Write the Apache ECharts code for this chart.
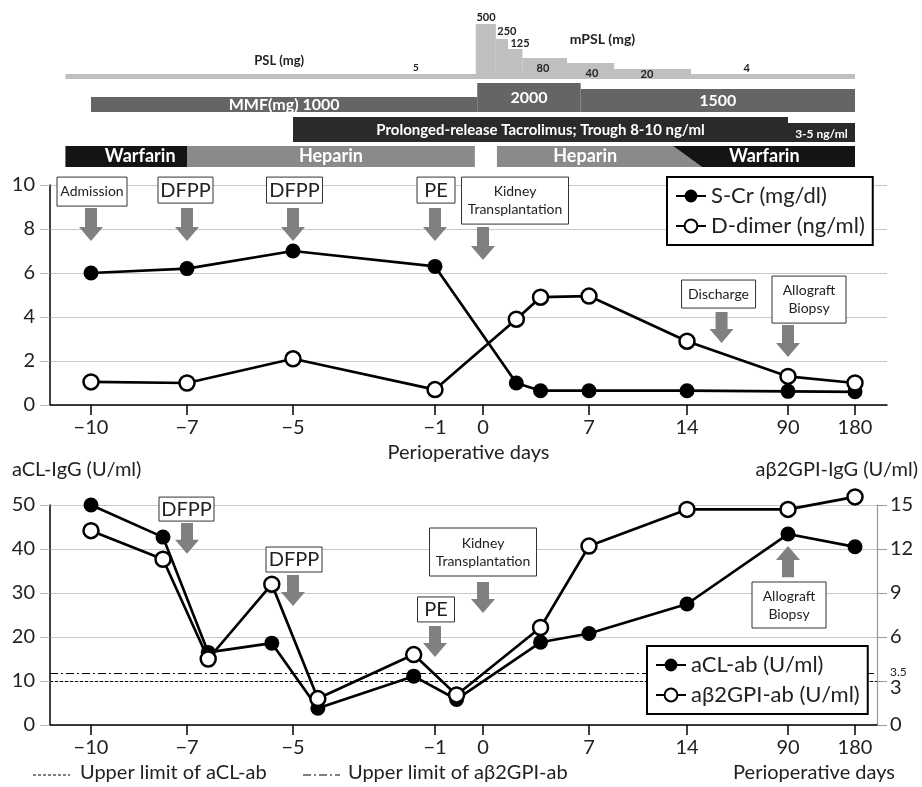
<!DOCTYPE html>
<html><head><meta charset="utf-8">
<script src="https://cdn.jsdelivr.net/npm/echarts@6/dist/echarts.min.js"></script>
<style>html,body{margin:0;padding:0;background:#fff}#c{width:922px;height:787px}</style>
</head><body><div id="c"></div>
<script>
// ---- nonlinear perioperative-day axis ----
const tickDays   = [-10, -7, -5, -1, 0, 7, 14, 90, 180];
const tickLabels = ['−10', '−7', '−5', '−1', '0', '7', '14', '90', '180'];
const tickSlots  = [41, 137, 243, 385, 433, 539, 637, 738, 805];

// ---- upper chart ----
const crDays = [-10, -7, -5, -1, 2.2, 3.8, 7, 14, 90, 180];
const sCr    = [6.0, 6.2, 7.0, 6.3, 1.0, 0.65, 0.65, 0.65, 0.62, 0.6];
const dDimer = [1.05, 1.0, 2.1, 0.7, 3.9, 4.9, 4.95, 2.9, 1.3, 1.0];

// ---- lower chart ----
const abDays = [-10, -7.75, -6.6, -5.4, -4.3, -1.6, -0.55, 3.8, 7, 14, 90, 180];
const aCL    = [50, 42.7, 16.5, 18.6, 3.8, 11.1, 5.8, 18.8, 20.8, 27.5, 43.4, 40.5];
const aB2GPI = [13.25, 11.3, 4.5, 9.6, 1.8, 4.8, 2.05, 6.65, 12.2, 14.7, 14.7, 15.55];
const aclLimit = 10;
const b2gpiLimit = 3.5;

// ---- events ----
const topEvents = [
  {text: 'Admission', day: -10}, {text: 'DFPP', day: -7}, {text: 'DFPP', day: -5},
  {text: 'PE', day: -1}, {text: 'Kidney\nTransplantation', day: 0},
  {text: 'Discharge', day: 40}, {text: 'Allograft\nBiopsy', day: 90}
];
const bottomEvents = [
  {text: 'DFPP', day: -7}, {text: 'DFPP', day: -5}, {text: 'PE', day: -1},
  {text: 'Kidney\nTransplantation', day: 0}, {text: 'Allograft\nBiopsy', day: 90}
];

// ---- treatment timeline (days) ----
const pslDose = 5;
const pslFrom = -10.8, pslTo = 180;
const mpslDoses = [500, 250, 125, 80, 40, 20, 4];
const mpslFrom  = [-0.15, 0.85, 1.65, 2.6, 5.55, 8.8, 17];
const mpslTo    = [0.85, 1.65, 2.6, 5.55, 8.8, 17, 180];
const mmfDoses  = [1000, 2000, 1500];
const mmfFrom   = [-10, -0.12, 6.45];
const mmfTo     = [-0.12, 6.45, 180];
const tacLabels = ['Prolonged-release Tacrolimus; Trough 8-10 ng/ml', '3-5 ng/ml'];
const tacFrom   = [-5, 90];
const tacTo     = [90, 180];
const acDrugs   = ['Warfarin', 'Heparin', 'Heparin', 'Warfarin'];
const acFrom    = [-10.8, -7, 0.92, 13];
const acTo      = [-7, -0.17, 13, 180];
const acSwitchEnd = 25.3;

// ---- layout (pixels / axis units) ----
const FONT = 'Lato';
const TL = {
  pslTop: 74, pslBottom: 79,
  mpslTops: [24, 39, 49, 58, 63, 69, 74],
  mpslLabelDays: [0.2, 1.58, 2.44, 3.96, 7.21, 11.14, 59],
  mpslLabelY: [17, 31, 43, 68, 73, 74, 68],
  mmfTops: [97, 83, 89], mmfBottom: 112, mmfLabelY: [105, 98, 101],
  tacTops: [117, 123], tacBottom: 142, tacLabelY: [130, 134], tacFont: [15, 12],
  acTop: 146, acBottom: 167, acLabelDx: [14, 0, -7, -7]
};
const topLayout = [
  {boxTop: 10.36, w: 70, h: 29, dx: 1, fs: 14, lh: 17, from: 8.95, to: 7.45},
  {boxTop: 10.36, w: 55, h: 26, dx: -1.5, fs: 20, lh: 22, from: 8.95, to: 7.45},
  {boxTop: 10.36, w: 56, h: 26, dx: 1.5, fs: 20, lh: 22, from: 8.95, to: 7.45},
  {boxTop: 10.36, w: 38, h: 26, dx: 1, fs: 20, lh: 22, from: 8.95, to: 7.45},
  {boxTop: 10.36, w: 107, h: 47, dx: 32, fs: 14, lh: 18, from: 8.09, to: 6.59},
  {boxTop: 5.68, w: 74, h: 28, dx: -3, fs: 14, lh: 17, from: 4.23, to: 2.82},
  {boxTop: 5.86, w: 74, h: 47, dx: 21, fs: 14, lh: 18, from: 3.64, to: 2.18}
];
const bottomLayout = [
  {boxTop: 51.8, w: 55, h: 24, dx: -0.5, fs: 20, lh: 22, from: 45.9, to: 38.9},
  {boxTop: 40.45, w: 56, h: 25, dx: 1, fs: 20, lh: 22, from: 34.1, to: 27.05},
  {boxTop: 29.1, w: 37, h: 25, dx: 1, fs: 20, lh: 22, from: 22.5, to: 15.45},
  {boxTop: 44.77, w: 107, h: 48, dx: 0, fs: 14, lh: 18, from: 32.5, to: 25.45},
  {boxTop: 32.5, w: 74, h: 46, dx: 1, fs: 14, lh: 18, from: 33.6, to: 40.7}
];

function dayToSlot(d) {
  let i = 0;
  while (i < tickDays.length - 2 && d > tickDays[i + 1]) i++;
  const d0 = tickDays[i], d1 = tickDays[i + 1], s0 = tickSlots[i], s1 = tickSlots[i + 1];
  return s0 + (d - d0) * (s1 - s0) / (d1 - d0);
}
const slotLabel = v => { const i = tickSlots.indexOf(v); return i >= 0 ? tickLabels[i] : ''; };

function renderTimeline(params, api) {
  const P = (d, y) => api.coord([dayToSlot(d), y]);
  const ch = [];
  const rect = (d0, d1, y0, y1, fill) => {
    const a = P(d0, y0), b = P(d1, y1);
    ch.push({type: 'rect', shape: {x: a[0], y: a[1], width: b[0] - a[0], height: b[1] - a[1]}, style: {fill}});
  };
  const poly = (pts, fill) => ch.push({type: 'polygon', shape: {points: pts.map(p => P(p[0], p[1]))}, style: {fill}});
  const text = (d, y, s, font, fill, dx) => {
    const p = P(d, y);
    ch.push({type: 'text', x: p[0] + (dx || 0), y: p[1], style: {text: s, font, fill, align: 'center', verticalAlign: 'middle'}, z2: 10});
  };
  const LIGHT = '#bfbfbf', MMF = '#656565', TAC = '#2a2a2a', WAR = '#141414', HEP = '#8a8a8a';
  // PSL / mPSL
  rect(pslFrom, pslTo, TL.pslTop, TL.pslBottom, LIGHT);
  mpslDoses.forEach((dose, i) => rect(mpslFrom[i], mpslTo[i], TL.mpslTops[i], TL.pslBottom, LIGHT));
  text(-5.26, 61, 'PSL (mg)', `bold 13px ${FONT}`, '#222');
  text(-1.54, 68, String(pslDose), `bold 10px ${FONT}`, '#222');
  text(7.96, 39, 'mPSL (mg)', `bold 14px ${FONT}`, '#222');
  mpslDoses.forEach((dose, i) => text(TL.mpslLabelDays[i], TL.mpslLabelY[i], String(dose), `bold 11px ${FONT}`, '#222'));
  // MMF
  mmfDoses.forEach((dose, i) => rect(mmfFrom[i], mmfTo[i], TL.mmfTops[i], TL.mmfBottom, MMF));
  mmfDoses.forEach((dose, i) => {
    const mid = (dayToSlot(mmfFrom[i]) + dayToSlot(mmfTo[i])) / 2;
    const p = api.coord([mid, TL.mmfLabelY[i]]);
    ch.push({type: 'text', x: p[0], y: p[1], style: {text: (i === 0 ? 'MMF(mg) ' : '') + dose, font: `bold 16px ${FONT}`, fill: '#fff', align: 'center', verticalAlign: 'middle'}, z2: 10});
  });
  // Tacrolimus
  tacLabels.forEach((lab, i) => {
    rect(tacFrom[i], tacTo[i], TL.tacTops[i], TL.tacBottom, TAC);
    const mid = (dayToSlot(tacFrom[i]) + dayToSlot(tacTo[i])) / 2;
    const p = api.coord([mid, TL.tacLabelY[i]]);
    ch.push({type: 'text', x: p[0], y: p[1], style: {text: lab, font: `bold ${TL.tacFont[i]}px ${FONT}`, fill: '#fff', align: 'center', verticalAlign: 'middle'}, z2: 10});
  });
  // anticoagulation
  const t = TL.acTop, b = TL.acBottom;
  rect(acFrom[0], acTo[0], t, b, WAR);
  rect(acFrom[1], acTo[1], t, b, HEP);
  poly([[acFrom[2], t], [acTo[2], t], [acSwitchEnd, b], [acFrom[2], b]], HEP);
  poly([[acFrom[3], t], [acTo[3], t], [acTo[3], b], [acSwitchEnd, b]], WAR);
  acDrugs.forEach((drug, i) => {
    let s0 = dayToSlot(acFrom[i]), s1 = dayToSlot(acTo[i]);
    if (i === 2) s1 = (dayToSlot(acTo[2]) + dayToSlot(acSwitchEnd)) / 2;
    if (i === 3) s0 = (dayToSlot(acFrom[3]) + dayToSlot(acSwitchEnd)) / 2;
    const p = api.coord([(s0 + s1) / 2, (t + b) / 2]);
    ch.push({type: 'text', x: p[0] + TL.acLabelDx[i], y: p[1], style: {text: drug, font: `bold 18px ${FONT}`, fill: '#fff', align: 'center', verticalAlign: 'middle'}, z2: 10});
  });
  return {type: 'group', children: ch};
}

function makeEventRenderer(events, layout) {
  return function (params, api) {
    const ch = [];
    events.forEach((ev, i) => {
      const L = layout[i];
      const x = api.coord([dayToSlot(ev.day), 0])[0];
      const yBox = api.coord([0, L.boxTop])[1];
      const cx = x + L.dx;
      ch.push({type: 'rect', shape: {x: cx - L.w / 2, y: yBox, width: L.w, height: L.h}, style: {fill: '#fff', stroke: '#333', lineWidth: 1}});
      ch.push({type: 'text', x: cx, y: yBox + L.h / 2, style: {text: ev.text, font: `${L.fs}px ${FONT}`, fill: '#222', align: 'center', verticalAlign: 'middle', lineHeight: L.lh}});
      const y0 = api.coord([0, L.from])[1], y1 = api.coord([0, L.to])[1];
      const dir = y1 > y0 ? 1 : -1, head = 14 * dir, hw = 12, sw = 6;
      ch.push({type: 'polygon', shape: {points: [[x - sw, y0], [x + sw, y0], [x + sw, y1 - head], [x + hw, y1 - head], [x, y1], [x - hw, y1 - head], [x - sw, y1 - head]]}, style: {fill: '#808080'}});
    });
    return {type: 'group', children: ch};
  };
}

const xBase = (grid, max) => ({
  gridIndex: grid, type: 'value', min: 0, max: max,
  axisLine: {show: true, onZero: false, lineStyle: {color: '#000', width: 1.5}},
  axisTick: {show: true, customValues: tickSlots, length: 10, lineStyle: {color: '#000', width: 1.5}},
  axisLabel: {customValues: tickSlots, formatter: slotLabel, fontSize: 20, color: '#222', margin: 13, fontFamily: FONT},
  splitLine: {show: false}
});
const yBase = (grid, max, interval) => ({
  gridIndex: grid, type: 'value', min: 0, max: max, interval: interval,
  axisLine: {show: true, lineStyle: {color: '#000', width: 1.5}},
  axisTick: {show: true, length: 10, lineStyle: {color: '#bbb'}},
  axisLabel: {fontSize: 20, color: '#222', margin: 15, fontFamily: FONT},
  splitLine: {show: true, lineStyle: {color: '#c8c8c8', width: 1.2}}
});

const lineSeries = (name, xi, yi, days, vals, filled, z) => ({
  name, type: 'line', xAxisIndex: xi, yAxisIndex: yi, clip: false,
  data: days.map((d, i) => [dayToSlot(d), vals[i]]),
  symbol: 'circle', symbolSize: 15,
  itemStyle: filled ? {color: '#000'} : {color: '#fff', borderColor: '#000', borderWidth: 2.5},
  lineStyle: {color: '#000', width: 2.7}, z: z
});

const legendBase = {
  orient: 'vertical', backgroundColor: '#fff', borderColor: '#000', borderWidth: 2, z: 20,
  padding: [8, 8, 8, 8], itemGap: 8, itemWidth: 30, itemHeight: 16, selectedMode: false,
  textStyle: {fontSize: 22, color: '#222', fontFamily: FONT}
};

const x1 = xBase(0, 837);
x1.name = 'Perioperative days'; x1.nameLocation = 'middle'; x1.nameGap = 38;
x1.nameTextStyle = {fontSize: 20, color: '#222', fontFamily: FONT};

const yRight = {
  gridIndex: 1, type: 'value', position: 'right', min: 0, max: 15, interval: 3,
  axisLine: {show: true, lineStyle: {color: '#999', width: 1.2}},
  axisTick: {show: true, length: 10, lineStyle: {color: '#999'}},
  axisLabel: {customValues: [0, 3, 3.5, 6, 9, 12, 15],
    formatter: v => v === 3.5 ? '{s|3.5}' : (v === 3 ? '{t|3}' : String(v)),
    rich: {s: {fontSize: 12, color: '#222', fontFamily: FONT, padding: [0, 0, 4, 0]},
           t: {fontSize: 20, color: '#222', fontFamily: FONT, padding: [14, 0, 0, 0]}},
    fontSize: 20, color: '#222', margin: 13, fontFamily: FONT},
  splitLine: {show: false}
};

const option = {
  animation: false,
  backgroundColor: '#fff',
  textStyle: {fontFamily: FONT},
  grid: [
    {left: 50, top: 185, width: 837, height: 220},
    {left: 50, top: 505, width: 827, height: 220},
    {left: 50, top: 0, width: 837, height: 175}
  ],
  xAxis: [x1, xBase(1, 827), {gridIndex: 2, type: 'value', min: 0, max: 837, show: false}],
  yAxis: [yBase(0, 10, 2), yBase(1, 50, 10), yRight, {gridIndex: 2, type: 'value', min: 0, max: 175, inverse: true, show: false}],
  legend: [
    Object.assign({}, legendBase, {data: ['S-Cr (mg/dl)', 'D-dimer (ng/ml)'], left: 667, top: 177}),
    Object.assign({}, legendBase, {data: ['aCL-ab (U/ml)', 'aβ2GPI-ab (U/ml)'], left: 647, top: 646})
  ],
  graphic: [
    {type: 'text', left: 12, top: 460, style: {text: 'aCL-IgG (U/ml)', font: `20px ${FONT}`, fill: '#222'}},
    {type: 'text', right: 4, top: 460, style: {text: 'aβ2GPI-IgG (U/ml)', font: `20px ${FONT}`, fill: '#222'}},
    {type: 'line', shape: {x1: 33, y1: 775, x2: 70, y2: 775}, style: {stroke: '#000', lineWidth: 1, lineDash: [3, 2]}},
    {type: 'text', left: 80, top: 763, style: {text: 'Upper limit of aCL-ab', font: `20px ${FONT}`, fill: '#222'}},
    {type: 'line', shape: {x1: 303, y1: 775, x2: 340, y2: 775}, style: {stroke: '#000', lineWidth: 1, lineDash: [8, 3, 2, 3]}},
    {type: 'text', left: 348, top: 763, style: {text: 'Upper limit of aβ2GPI-ab', font: `20px ${FONT}`, fill: '#222'}},
    {type: 'text', right: 27, top: 763, style: {text: 'Perioperative days', font: `20px ${FONT}`, fill: '#222'}}
  ],
  series: [
    {type: 'custom', xAxisIndex: 2, yAxisIndex: 3, renderItem: renderTimeline, data: [[0, 0]], silent: true, clip: false},
    {type: 'custom', xAxisIndex: 0, yAxisIndex: 0, renderItem: makeEventRenderer(topEvents, topLayout), data: [[0, 0]], silent: true, clip: false, z: 1},
    {type: 'custom', xAxisIndex: 1, yAxisIndex: 1, renderItem: makeEventRenderer(bottomEvents, bottomLayout), data: [[0, 0]], silent: true, clip: false, z: 1},
    lineSeries('S-Cr (mg/dl)', 0, 0, crDays, sCr, true, 3),
    lineSeries('D-dimer (ng/ml)', 0, 0, crDays, dDimer, false, 4),
    Object.assign(lineSeries('aCL-ab (U/ml)', 1, 1, abDays, aCL, true, 3), {
      markLine: {silent: true, symbol: 'none', label: {show: false}, lineStyle: {color: '#000', type: [3, 2], width: 1}, data: [{yAxis: aclLimit}]}
    }),
    Object.assign(lineSeries('aβ2GPI-ab (U/ml)', 1, 2, abDays, aB2GPI, false, 4), {
      markLine: {silent: true, symbol: 'none', label: {show: false}, lineStyle: {color: '#000', type: [8, 3, 2, 3], width: 1}, data: [{yAxis: b2gpiLimit}]}
    })
  ]
};

const chart = echarts.init(document.getElementById('c'));
chart.setOption(option);
</script>
</body></html>
